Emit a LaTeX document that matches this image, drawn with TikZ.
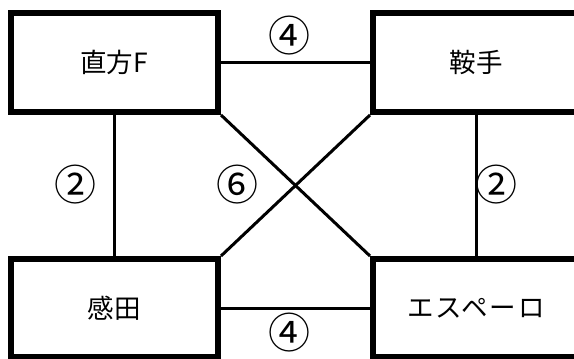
\documentclass[tikz,border=0pt]{standalone}
\usepackage{fontspec}
\setmainfont{Noto Sans CJK JP}
\begin{document}
\begin{tikzpicture}[x=1pt,y=-1pt,
  city/.style={draw,line width=6pt,inner sep=0pt,font=\fontsize{26.5}{30}\selectfont},
  link/.style={line width=3pt},
  num/.style={font=\fontsize{42}{46}\selectfont,inner sep=0pt}]
\useasboundingbox (0,0) rectangle (574,359);
\node[city,minimum width=207.5pt,minimum height=99pt] (a) at (114.25,62.5) {直方F};
\node[city,minimum width=207pt,minimum height=99pt] (b) at (476.5,62.5) {};
\node[font=\fontsize{26.5}{30}\selectfont,inner sep=0pt] (bl) at (476,62.5) {鞍手};
\node[city,minimum width=207.5pt,minimum height=98pt] (c) at (114.25,308) {感田};
\node[city,minimum width=207pt,minimum height=98pt] (d) at (476.5,308) {};
\node[font=\fontsize{26.5}{30}\selectfont\addfontfeature{LetterSpace=6},inner sep=0pt] (dl) at (476,308) {エスペーロ};
\draw[link] (a.east) -- (b.west);
\draw[link] (c.east) -- (d.west);
\draw[link] (a.south) -- (c.north);
\draw[link] (b.south) -- (d.north);
\draw[link] (a.south east) -- (d.north west);
\draw[link] (b.south west) -- (c.north east);
\node[num] (n1) at (289.5,35.5) {④};
\node[num] (n2) at (289.5,332.5) {④};
\node[num] (n3) at (75,184.5) {②};
\node[num] (n4) at (496,184.5) {②};
\node[num] (n5) at (237.5,184.5) {⑥};
\end{tikzpicture}
\end{document}
